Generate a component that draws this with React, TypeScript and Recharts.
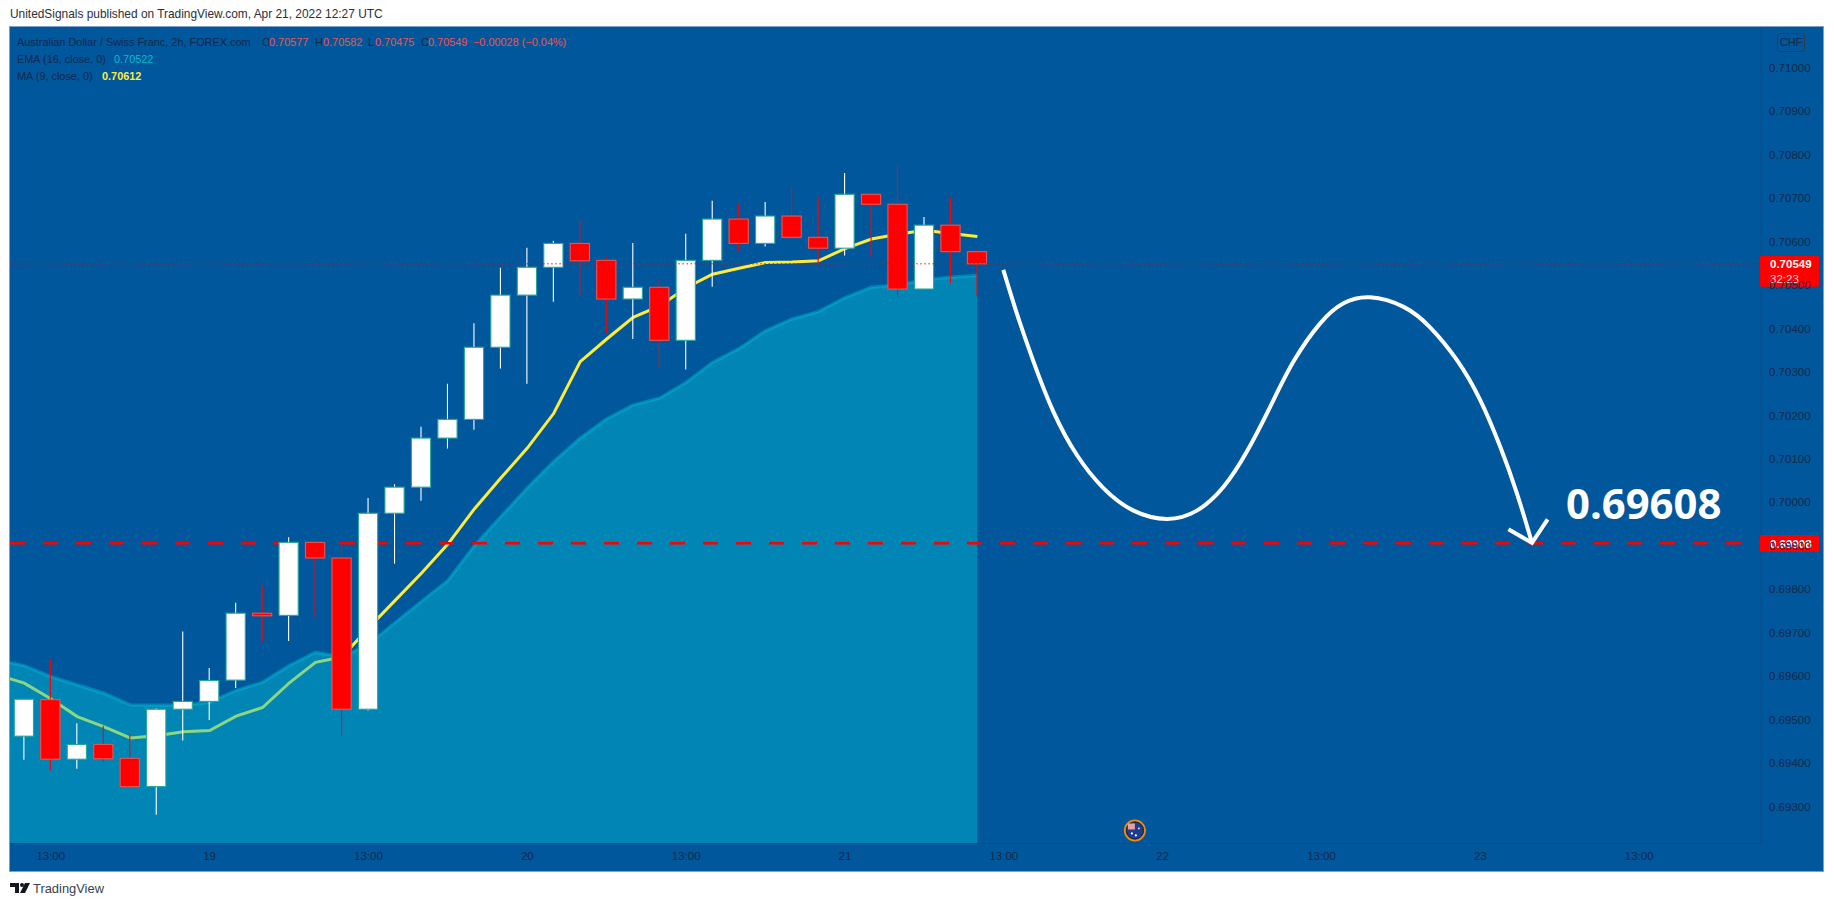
import { ComposedChart, Area, Bar, Line, XAxis, YAxis, ReferenceDot } from 'recharts';

const W = 1834;
const H = 907;

// 2h candles, index 0 is the first bar on screen
const opens = [0.69462, 0.69546, 0.69409, 0.69443, 0.69411, 0.69346, 0.69524, 0.69542, 0.69591, 0.69745, 0.6974, 0.69908, 0.69872, 0.69524, 0.69975, 0.70035, 0.70148, 0.70191, 0.70357, 0.70477, 0.70541, 0.70596, 0.70557, 0.70468, 0.70495, 0.70373, 0.70557, 0.70652, 0.70596, 0.70659, 0.7061, 0.70585, 0.70709, 0.70686, 0.70491, 0.70638, 0.70577];
const highs = [0.69547, 0.69637, 0.69492, 0.69486, 0.69467, 0.69526, 0.69703, 0.69619, 0.69769, 0.6981, 0.6992, 0.6991, 0.69902, 0.7001, 0.70042, 0.70174, 0.70273, 0.70412, 0.7054, 0.70586, 0.70602, 0.70648, 0.70565, 0.70597, 0.70514, 0.70618, 0.70694, 0.70689, 0.70691, 0.70725, 0.70702, 0.70758, 0.70709, 0.70779, 0.70657, 0.70703, 0.70582];
const lows = [0.69408, 0.69383, 0.69387, 0.69403, 0.69346, 0.69281, 0.69452, 0.69499, 0.69573, 0.69681, 0.69681, 0.69737, 0.69461, 0.69521, 0.69859, 0.70004, 0.70124, 0.70167, 0.70308, 0.70273, 0.70462, 0.70477, 0.7039, 0.70376, 0.70312, 0.70306, 0.70496, 0.70579, 0.70589, 0.70606, 0.7055, 0.70568, 0.70566, 0.70473, 0.70491, 0.70504, 0.70475];
const closes = [0.69547, 0.69409, 0.69443, 0.6941, 0.69346, 0.69524, 0.69542, 0.6959, 0.69745, 0.69739, 0.69908, 0.69872, 0.69524, 0.69975, 0.70035, 0.70148, 0.70191, 0.70357, 0.70477, 0.70541, 0.70596, 0.70556, 0.70468, 0.70495, 0.70373, 0.70557, 0.70652, 0.70596, 0.70659, 0.7061, 0.70585, 0.70709, 0.70686, 0.70491, 0.70638, 0.70577, 0.70549];

// first value of each is the bar just left of the pane
const emaValues = [0.69637, 0.69624, 0.69599, 0.6958, 0.69561, 0.69534, 0.69533, 0.69533, 0.6954, 0.69567, 0.69586, 0.69624, 0.69655, 0.69644, 0.69673, 0.69723, 0.69772, 0.6982, 0.699, 0.69967, 0.70033, 0.70094, 0.70148, 0.70192, 0.70224, 0.7024, 0.70276, 0.70322, 0.70354, 0.70395, 0.70422, 0.70439, 0.70471, 0.70495, 0.705, 0.70512, 0.70518, 0.70522];
const maValues = [0.69603, 0.69584, 0.69548, 0.69507, 0.69484, 0.69458, 0.69463, 0.69472, 0.69475, 0.69508, 0.69528, 0.69584, 0.69632, 0.69644, 0.69711, 0.69774, 0.69837, 0.69904, 0.69985, 0.70056, 0.70125, 0.70205, 0.70324, 0.70376, 0.70426, 0.70452, 0.70494, 0.70525, 0.70539, 0.70552, 0.70553, 0.70556, 0.70584, 0.70606, 0.70617, 0.70626, 0.70619, 0.70612];

// hand drawn projection
const curveX = [36.98, 37.49, 38.12, 38.87, 39.76, 40.76, 41.9, 43.16, 44.29, 45.3, 46.18, 47.06, 47.94, 48.95, 49.83, 50.84, 52.1, 53.1, 54.11, 54.99, 55.75, 56.38, 56.95];
const curveY = [0.70535, 0.70435, 0.70324, 0.70209, 0.70109, 0.70033, 0.69981, 0.69962, 0.69981, 0.70036, 0.70117, 0.7022, 0.70324, 0.70412, 0.70458, 0.70472, 0.7045, 0.70403, 0.70328, 0.70236, 0.70128, 0.70021, 0.69907];
const arrowX = [56.06, 56.95, 57.54];
const arrowY = [0.69938, 0.69907, 0.69961];

const X_MIN = -0.54;
const X_MAX = 65.6;
const TARGET = 0.69906;
const LAST_PRICE = 0.70549;

const priceTicks = [0.693, 0.694, 0.695, 0.696, 0.697, 0.698, 0.699, 0.7, 0.701, 0.702, 0.703, 0.704, 0.705, 0.706, 0.707, 0.708, 0.709, 0.71];
const timeTicks = [1, 7, 13, 19, 25, 31, 37, 43, 49, 55, 61];
const timeLabels = ['13:00', '19', '13:00', '20', '13:00', '21', '13:00', '22', '13:00', '23', '13:00'];

const rows = emaValues.map((ema, i) => ({
  x: i - 1,
  ema,
  ma: maValues[i],
  open: opens[i - 1],
  high: highs[i - 1],
  low: lows[i - 1],
  close: closes[i - 1],
}));
const curveRows = curveX.map((x, i) => ({ x, y: curveY[i] }));
const arrowRows = arrowX.map((x, i) => ({ x, y: arrowY[i] }));
const targetRows = [{ x: X_MIN, y: TARGET }, { x: X_MAX, y: TARGET }];
const lastRows = [{ x: X_MIN, y: LAST_PRICE }, { x: X_MAX, y: LAST_PRICE }];

const BG = '#01579b';
const AXIS_TEXT = '#14284a';
const UI_FONT = '"Liberation Sans", Arial, sans-serif';

function Candle(props: any) {
  const { x, y, width, height, payload } = props;
  if (payload.open === undefined) return null;
  const top = Math.min(y, y + height);
  const span = Math.abs(height);
  const toY = (v: number) => top + ((payload.high - v) / (payload.high - payload.low)) * span;
  const up = payload.close >= payload.open;
  const cx = x + width / 2;
  const bodyTop = toY(Math.max(payload.open, payload.close));
  const bodyBottom = toY(Math.min(payload.open, payload.close));
  return (
    <g>
      <line x1={cx} x2={cx} y1={top} y2={top + span} stroke={up ? '#ffffff' : '#ff0000'} strokeWidth={1.1} />
      <rect
        x={cx - 9.6}
        y={bodyTop}
        width={19.2}
        height={Math.max(bodyBottom - bodyTop, 1)}
        fill={up ? '#ffffff' : '#ff0000'}
        stroke={up ? '#26a69a' : '#ef5350'}
        strokeWidth={1.1}
      />
    </g>
  );
}

function LastPriceTag(props: any) {
  const { cx, cy } = props;
  return (
    <g fontFamily={UI_FONT}>
      <rect x={cx - 1} y={cy - 8} width={59} height={31} rx={1.5} fill="#ff0000" />
      <text x={cx + 9} y={cy + 4.5} fontSize={11.5} fontWeight={700} fill="#ffffff">0.70549</text>
      <text x={cx + 9} y={cy + 19} fontSize={11.5} fill="#ffd6d6">32:23</text>
    </g>
  );
}

function TargetTag(props: any) {
  const { cx, cy } = props;
  return (
    <g fontFamily={UI_FONT}>
      <rect x={cx - 1} y={cy - 8.3} width={59} height={16.7} rx={1.5} fill="#ff0000" />
      <text x={cx + 9} y={cy + 4.5} fontSize={11.5} fontWeight={700} fill="#ffffff">0.69908</text>
    </g>
  );
}

function EarningsFlag(props: any) {
  const { cx, cy } = props;
  return (
    <g>
      <circle cx={cx} cy={cy} r={10} fill="#1d3c8f" stroke="#f08a00" strokeWidth={2} />
      <circle cx={cx} cy={cy} r={8.6} fill="none" stroke="#12224a" strokeWidth={1} />
      <rect x={cx - 7} y={cy - 7} width={7} height={6} fill="#e8a0a8" />
      <circle cx={cx + 4} cy={cy - 2} r={0.9} fill="#fff" />
      <circle cx={cx + 1} cy={cy + 5} r={1.1} fill="#fff" />
      <circle cx={cx - 3} cy={cy + 3} r={1.1} fill="#fff" />
    </g>
  );
}

function Overlay({ x, y, size = 10.9, color = AXIS_TEXT, weight = 400, family = UI_FONT, children }: any) {
  return (
    <div
      style={{
        position: 'absolute',
        left: x,
        top: y,
        transform: 'translateY(-50%)',
        fontSize: size,
        color,
        fontWeight: weight,
        fontFamily: family,
        whiteSpace: 'pre',
        lineHeight: 1,
      }}
    >
      {children}
    </div>
  );
}

export default function App() {
  return (
    <div style={{ position: 'absolute', left: 0, top: 0, width: W, height: H, background: '#ffffff', overflow: 'hidden' }}>
      <Overlay x={10} y={15} size={11.9} color="#2a2e39">UnitedSignals published on TradingView.com, Apr 21, 2022 12:27 UTC</Overlay>
      <div style={{ position: 'absolute', left: 9, top: 26, width: 1813, height: 844, background: BG, border: '1px solid #7f9fc6' }} />

      <div style={{ position: 'absolute', left: 0, top: 0 }}>
        <ComposedChart width={W} height={H} data={rows} margin={{ top: 27, right: 11, bottom: 36, left: 10 }}>
          <XAxis
            dataKey="x"
            type="number"
            domain={[X_MIN, X_MAX]}
            allowDataOverflow
            ticks={timeTicks}
            tickFormatter={(v: number) => timeLabels[timeTicks.indexOf(v)]}
            height={27.5}
            tickLine={false}
            axisLine={{ stroke: '#0f4b86' }}
            tick={{ fill: AXIS_TEXT, fontSize: 11.5, fontFamily: UI_FONT }}
            interval={0}
          />
          <YAxis
            orientation="right"
            type="number"
            domain={[0.69215, 0.71094]}
            allowDataOverflow
            ticks={priceTicks}
            tickFormatter={(v: number) => v.toFixed(5)}
            width={62}
            tickLine={false}
            axisLine={{ stroke: '#0f4b86' }}
            tick={{ fill: AXIS_TEXT, fontSize: 11.5, fontFamily: UI_FONT }}
            interval={0}
            zIndex={50}
          />
          <Line dataKey="ma" zIndex={80} stroke="#ffeb3b" strokeWidth={3} dot={false} isAnimationActive={false} />
          <Area
            dataKey="ema"
            zIndex={100}
            fill="#00bcd4"
            fillOpacity={0.455}
            stroke="#00bcd4"
            strokeOpacity={0.45}
            strokeWidth={3.4}
            dot={false}
            isAnimationActive={false}
          />
          <Line data={targetRows} dataKey="y" zIndex={150} stroke="#ff0000" strokeWidth={2.4} strokeDasharray="15 18" dot={false} isAnimationActive={false} />
          <Bar dataKey={(d: any) => (d.open === undefined ? null : [d.low, d.high])} zIndex={300} barSize={20} shape={<Candle />} isAnimationActive={false} />
          <Line data={lastRows} dataKey="y" zIndex={400} stroke="#ff0000" strokeWidth={1} strokeDasharray="1.5 2.6" dot={false} isAnimationActive={false} />
          <Line data={curveRows} dataKey="y" zIndex={400} type="natural" stroke="#ffffff" strokeWidth={4} dot={false} isAnimationActive={false} />
          <Line data={arrowRows} dataKey="y" zIndex={400} stroke="#ffffff" strokeWidth={4} dot={false} isAnimationActive={false} />
          <ReferenceDot x={41.95} y={0.69245} r={10} zIndex={500} ifOverflow="visible" shape={<EarningsFlag />} />
          <ReferenceDot x={X_MAX} y={LAST_PRICE} r={1} zIndex={2000} ifOverflow="visible" shape={<LastPriceTag />} />
          <ReferenceDot x={X_MAX} y={TARGET} r={1} zIndex={2000} ifOverflow="visible" shape={<TargetTag />} />
        </ComposedChart>
      </div>

      <Overlay x={17} y={42}>Australian Dollar / Swiss Franc, 2h, FOREX.com</Overlay>
      <Overlay x={262} y={42}>O</Overlay>
      <Overlay x={269} y={42} color="#ef5350">0.70577</Overlay>
      <Overlay x={315} y={42}>H</Overlay>
      <Overlay x={323} y={42} color="#ef5350">0.70582</Overlay>
      <Overlay x={368} y={42}>L</Overlay>
      <Overlay x={375} y={42} color="#ef5350">0.70475</Overlay>
      <Overlay x={421} y={42}>C</Overlay>
      <Overlay x={428} y={42} color="#ef5350">0.70549</Overlay>
      <Overlay x={473} y={42} color="#ef5350">−0.00028 (−0.04%)</Overlay>
      <Overlay x={17} y={59}>EMA (16, close, 0)</Overlay>
      <Overlay x={114} y={59} color="#00bcd4">0.70522</Overlay>
      <Overlay x={17} y={76}>MA (9, close, 0)</Overlay>
      <Overlay x={102} y={76} color="#ffeb3b" weight={700}>0.70612</Overlay>

      <div
        style={{
          position: 'absolute',
          left: 1777,
          top: 33,
          width: 26,
          height: 17,
          border: '1px solid #2c3a5a',
          borderRadius: 3,
          textAlign: 'center',
          fontSize: 11,
          lineHeight: '17px',
          color: AXIS_TEXT,
          fontFamily: UI_FONT,
        }}
      >
        CHF
      </div>

      <Overlay x={1566} y={503} size={41.8} color="#ffffff" weight={700} family='"Open Sans", sans-serif'>0.69608</Overlay>

      <svg style={{ position: 'absolute', left: 10, top: 883 }} width={20} height={11}>
        <polygon points="0,0 9,0 9,10 5,10 5,4 0,4" fill="#131722" />
        <circle cx={12} cy={2} r={2} fill="#131722" />
        <polygon points="15,0 20,0 15,10 10,10" fill="#131722" />
      </svg>
      <Overlay x={33} y={889} size={12.9} color="#3a3f4b">TradingView</Overlay>
    </div>
  );
}
